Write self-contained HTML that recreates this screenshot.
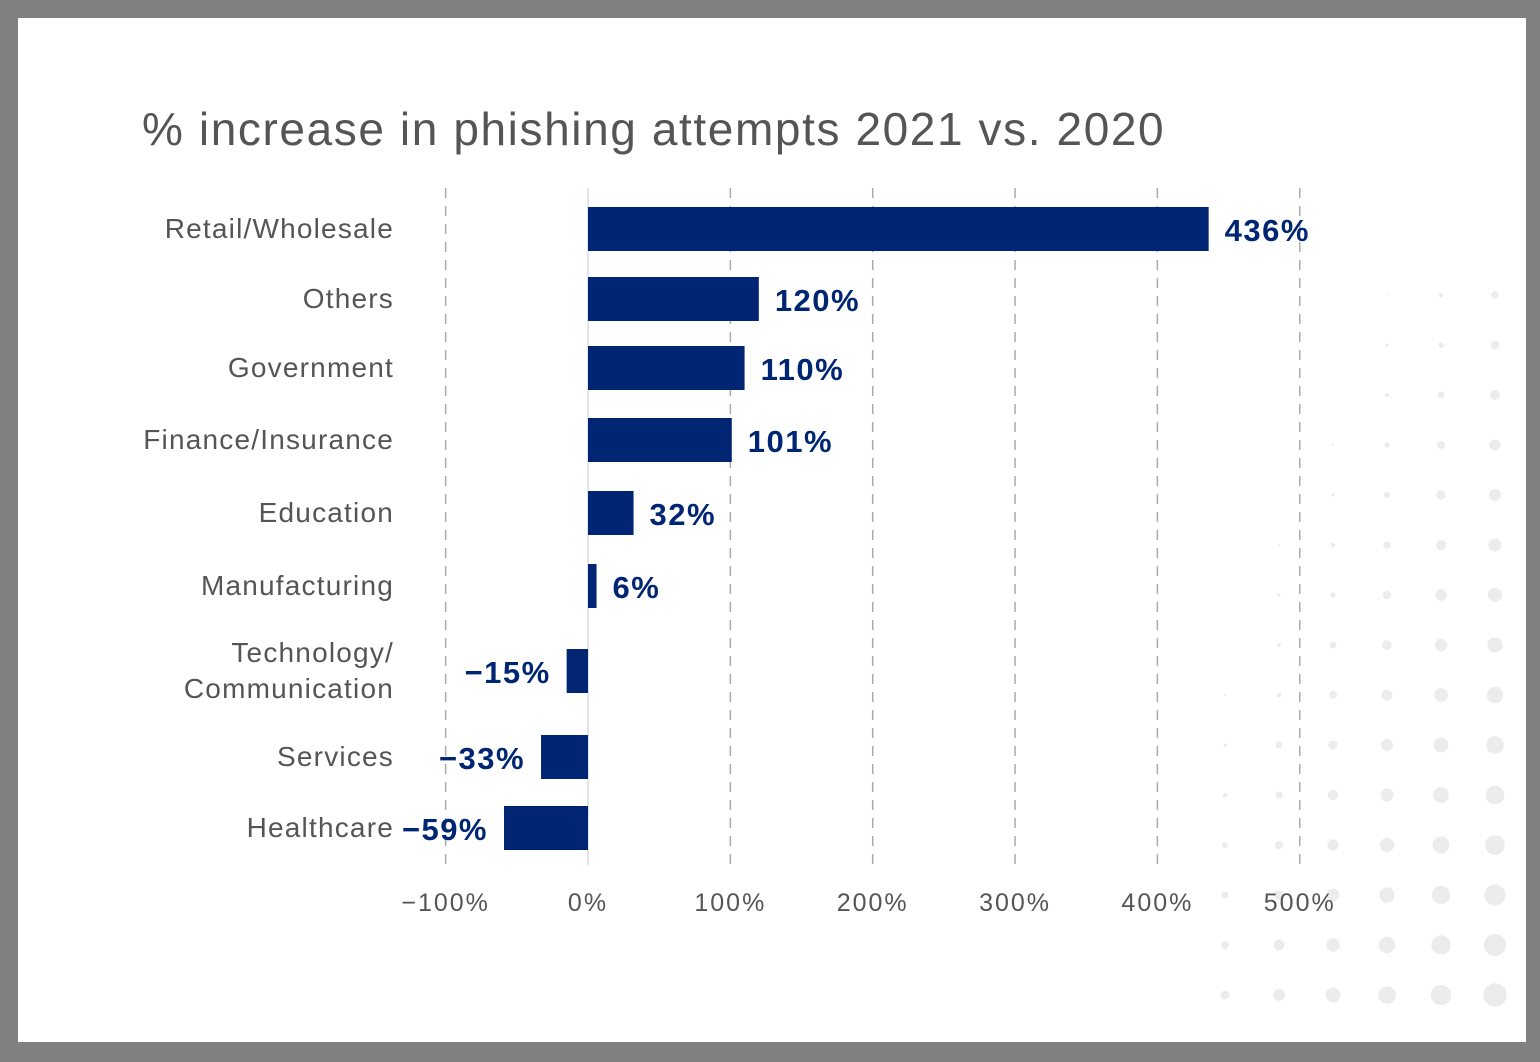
<!DOCTYPE html>
<html><head><meta charset="utf-8"><style>
body{margin:0;background:#808080;}
#card{position:absolute;left:18px;top:18px;width:1508px;height:1024px;background:#fff;}
svg{position:absolute;left:0;top:0;}
text{font-family:"Liberation Sans",sans-serif;}
</style></head><body>
<div id="card"></div>
<svg id="chart" width="1540" height="1062">
<text x="142" y="145" font-size="46" letter-spacing="1.6" fill="#555">% increase in phishing attempts 2021 vs. 2020</text>
</svg>
<script>
const categories=[["Retail/Wholesale"],["Others"],["Government"],["Finance/Insurance"],["Education"],["Manufacturing"],["Technology/","Communication"],["Services"],["Healthcare"]];
const values=[436,120,110,101,32,6,-15,-33,-59];
const valueLabels=["436%","120%","110%","101%","32%","6%","−15%","−33%","−59%"];
const ticks=[-100,0,100,200,300,400,500];
const tickLabels=["−100%","0%","100%","200%","300%","400%","500%"];
const rowCenters=[229,299,368,440,513,586,671,757,828];
const NS="http://www.w3.org/2000/svg";
const svg=document.getElementById('chart');
const x=v=>588+v*1.4235;
function mk(tag,attrs,parent){const e=document.createElementNS(NS,tag);for(const k in attrs)e.setAttribute(k,attrs[k]);(parent||svg).appendChild(e);return e;}
const dg=mk('g',{});


for(let c=0;c<6;c++)for(let r=0;r<15;r++){
 const cx=1225+c*54, cy=295+r*50;
 const rad=Math.max(0,(c*1.9+r*0.75)-4.5)*0.75;
 if(rad>0.8) mk('circle',{cx:cx,cy:cy,r:Math.min(rad,12),fill:'#ececec'},dg);
}
ticks.forEach((t,i)=>{
 const l=mk('line',{x1:x(t),x2:x(t),y1:188,y2:865,stroke:'#aaa','stroke-width':1.5,'stroke-dasharray':t===0?'none':'10,8'});
 if(t===0)l.setAttribute('stroke','#d8dbe6');
 
 
 const tx=mk('text',{x:x(t),y:911,'font-size':25,'letter-spacing':2,fill:'#555','text-anchor':'middle'});
 tx.textContent=tickLabels[i];
 
 
});
values.forEach((v,i)=>{
 const cy=rowCenters[i];
 const r=mk('rect',{x:Math.min(x(0),x(v)),y:cy-22,width:Math.abs(x(v)-x(0)),height:44,fill:'#002673'});
 
 
 const vl=mk('text',{x:v>=0?x(v)+16:x(v)-16,y:cy+12,'font-size':31,'letter-spacing':1.5,'font-weight':'bold',fill:'#002673','text-anchor':v>=0?'start':'end'});
 vl.textContent=valueLabels[i];
 
 
 const lines=categories[i];
 lines.forEach((s,j)=>{
  const cl=mk('text',{x:394,y:cy+9+(j-(lines.length-1)/2)*36,'font-size':28,'letter-spacing':1.2,fill:'#555','text-anchor':'end'});
  cl.textContent=s;
  
  
 });
});
</script>
</body></html>
